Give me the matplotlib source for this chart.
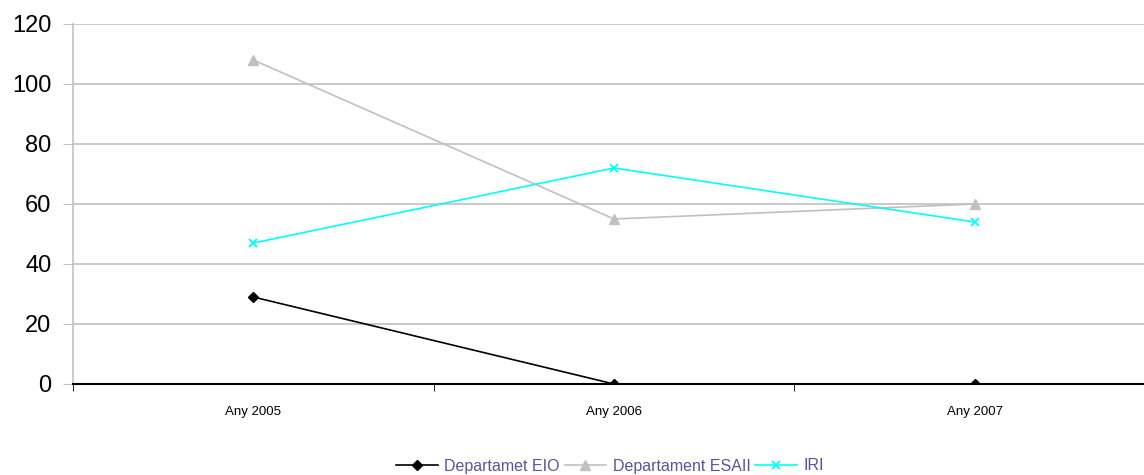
import numpy as np
import matplotlib.pyplot as plt

plt.rcParams['font.family'] = ['Liberation Sans', 'DejaVu Sans']

years = ['Any 2005', 'Any 2006', 'Any 2007']
eio = [29, 0, 0]
esaii = [108, 55, 60]
iri = [47, 72, 54]

fig = plt.figure(figsize=(11.44, 4.75), dpi=100)
ax = fig.add_axes([73 / 1144, 1 - 384 / 475, (1155 - 73) / 1144, 360 / 475])

x = np.arange(len(years))
ax.plot(x, eio, color='black', marker='D', markersize=5, lw=1.2, label='Departamet EIO', zorder=4)
ax.plot(x, esaii, color='#c0c0c0', marker='^', markersize=7, lw=1.2, label='Departament ESAII', zorder=3)
ax.plot(x, iri, color='#00ffff', marker='x', markersize=6, mew=1.3, lw=1.2, label='IRI', zorder=3)

ax.set_xlim(-0.5, 2.5)
ax.set_ylim(0, 120)
ax.set_yticks(range(0, 121, 20))
ax.set_xticks(x)
ax.set_xticklabels(years, fontsize=9.5)
ax.set_xticks([-0.5, 0.5, 1.5, 2.5], minor=True)
ax.tick_params(axis='x', which='major', length=0, pad=16)
ax.tick_params(axis='x', which='minor', length=5, direction='out', color='black')
ax.tick_params(axis='y', length=7.5, direction='out', color='#c0c0c0', labelsize=17, pad=8)
ax.yaxis.grid(True, color='#c0c0c0', lw=1.2)
ax.set_axisbelow(True)
for s in ['top', 'right']:
    ax.spines[s].set_visible(False)
ax.spines['left'].set_color('#c0c0c0')
ax.spines['left'].set_linewidth(1.2)
ax.spines['bottom'].set_color('black')
ax.spines['bottom'].set_linewidth(1.5)
ax.spines['bottom'].set_zorder(5)

leg = fig.legend(loc='center', bbox_to_anchor=(610 / 1144, 1 - 466 / 475), ncol=3,
                 frameon=False, fontsize=11.5, handlelength=2.6, handletextpad=0.4,
                 columnspacing=0.3, borderaxespad=0)
for t in leg.get_texts():
    t.set_color('#55559a')

fig.savefig('out.png', dpi=100)
